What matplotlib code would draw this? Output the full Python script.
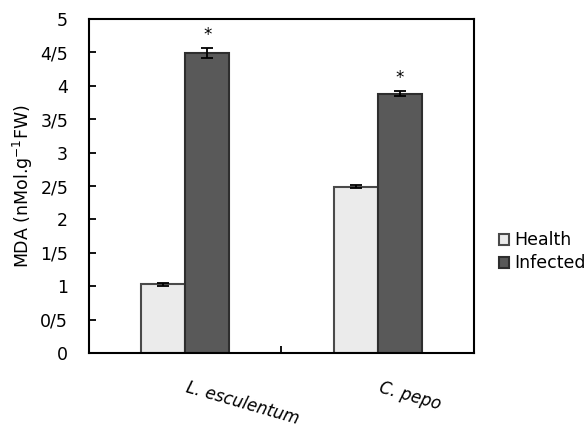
import numpy as np
import matplotlib
matplotlib.use('Agg')
import matplotlib.pyplot as plt

plt.rcParams['font.family'] = ['DejaVu Sans']

# Data
species = ['L. esculentum', 'C. pepo']
health = [1.03, 2.49]
health_err = [0.02, 0.02]
infected = [4.49, 3.88]
infected_err = [0.08, 0.04]
yticks = [0, 0.5, 1, 1.5, 2, 2.5, 3, 3.5, 4, 4.5, 5]
ytick_labels = ['0', '0/5', '1', '1/5', '2', '2/5', '3', '3/5', '4', '4/5', '5']

fig = plt.figure(figsize=(5.87, 4.28), dpi=100)
ax = fig.add_axes([0.1516, 0.1752, 0.6559, 0.7804])

x = np.arange(len(species))
w = 0.229
err_kw = dict(ecolor='black', elinewidth=1.3, capsize=4, capthick=1.3)
ax.bar(x - w / 2, health, w, yerr=health_err, color='#ebebeb',
       edgecolor='#4a4a4a', linewidth=1.5, error_kw=err_kw, label='Health')
ax.bar(x + w / 2, infected, w, yerr=infected_err, color='#595959',
       edgecolor='#2e2e2e', linewidth=1.5, error_kw=err_kw, label='Infected')

# significance stars
for xi, v, e in zip(x, infected, infected_err):
    ax.annotate('*', (xi + w / 2, v + e), xytext=(0, 3), textcoords='offset points',
                ha='center', va='bottom', fontsize=12)

ax.set_xlim(-0.5, 1.5)
ax.set_ylim(0, 5)
ax.set_yticks(yticks)
ax.set_yticklabels(ytick_labels, fontsize=12.5)
ax.set_xticks([0.5])
ax.set_xticklabels([''])
ax.tick_params(axis='both', direction='in', length=5, width=1.3, pad=15)

for s in ax.spines.values():
    s.set_linewidth(1.5)
    s.set_color('black')

for xi, name in zip(x, species):
    ax.text(xi + 0.02, -0.38, name, style='italic', fontsize=12, rotation=-16,
            rotation_mode='anchor', ha='left', va='top')

ax.set_ylabel(r'MDA (nMol.g$^{\mathregular{-1}}$FW)', fontsize=12.5, labelpad=4)

fig.legend(loc='upper left', bbox_to_anchor=(0.835, 0.48), frameon=False,
           fontsize=12.5, handlelength=0.6, handleheight=0.6, handletextpad=0.3,
           labelspacing=0.3, borderpad=0)

fig.savefig('out.png', dpi=100)
